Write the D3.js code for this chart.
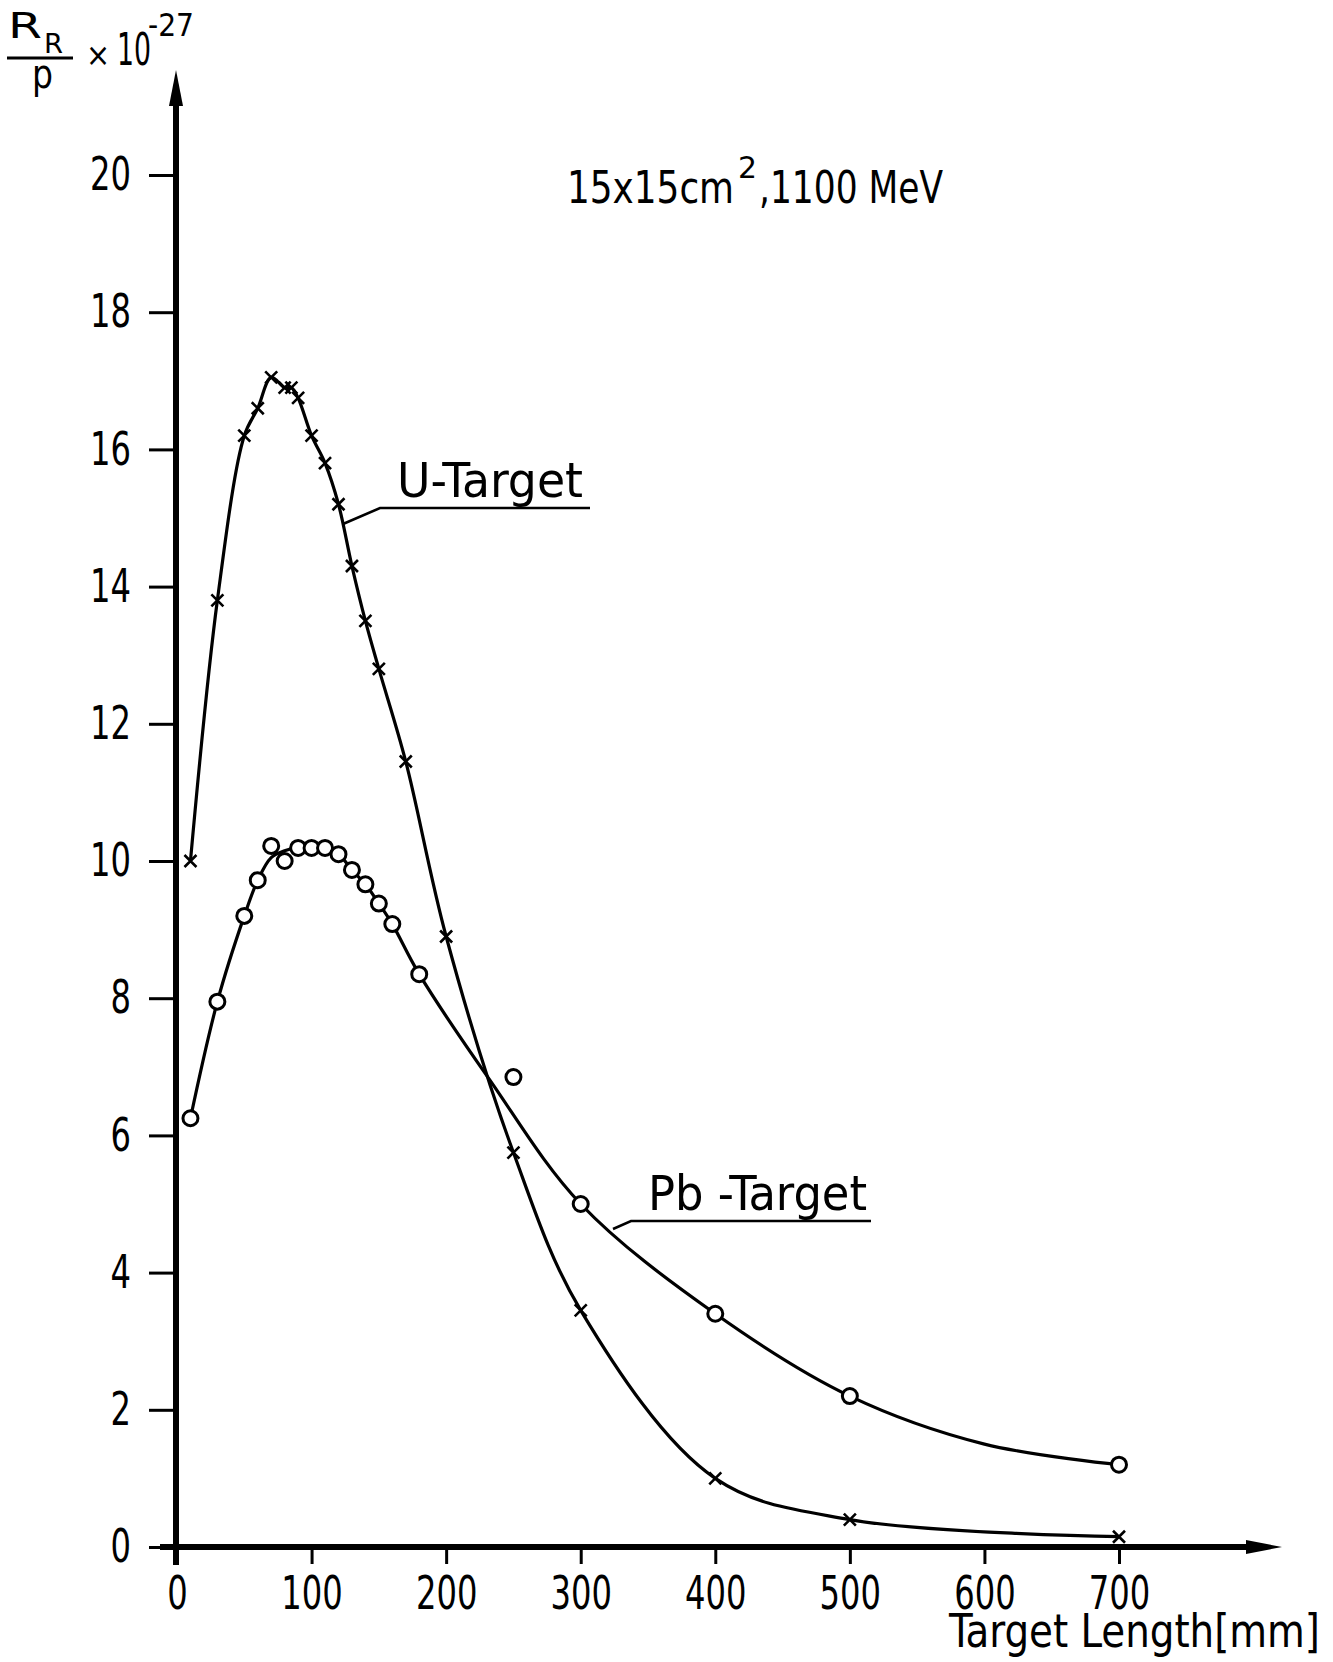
<!DOCTYPE html>
<html>
<head>
<meta charset="utf-8">
<script src="https://cdn.jsdelivr.net/npm/d3@7"></script>
<style>
  body { margin: 0; background: #fff; }
  svg { display: block; }
  text { font-family: "DejaVu Sans Condensed", "Liberation Sans Narrow", sans-serif; fill: #000; }
</style>
</head>
<body>
<div id="chart"></div>
<script>
// ********** DATA **********

// U-Target measurements (x markers)
const uLength = [10, 30, 50, 60, 70, 80, 85, 90, 100, 110, 120, 130, 140, 150, 170, 200, 250, 300, 400, 500, 700];
const uValue  = [10.0, 13.8, 16.2, 16.6, 17.05, 16.9, 16.9, 16.75, 16.2, 15.8, 15.2, 14.3, 13.5, 12.8, 11.45, 8.9, 5.75, 3.45, 1.0, 0.4, 0.15];

// Pb-Target measurements (open circles)
const pbLength = [10, 30, 50, 60, 70, 80, 90, 100, 110, 120, 130, 140, 150, 160, 180, 250, 300, 400, 500, 700];
const pbValue  = [6.25, 7.95, 9.2, 9.72, 10.22, 10.0, 10.19, 10.19, 10.19, 10.1, 9.87, 9.66, 9.38, 9.08, 8.35, 6.85, 5.0, 3.4, 2.2, 1.2];

// Pb fit curve as drawn in the figure (it does not pass through every circle)
const pbCurveLength = [10, 30, 50, 60, 70, 80, 90, 100, 110, 120, 130, 140, 150, 160, 180, 232, 300, 400, 500, 600, 700];
const pbCurveValue  = [6.25, 7.95, 9.2, 9.72, 10.05, 10.15, 10.2, 10.21, 10.19, 10.1, 9.87, 9.66, 9.38, 9.08, 8.35, 6.82, 5.0, 3.4, 2.2, 1.5, 1.2];

// Tick labels
const xTicks = [0, 100, 200, 300, 400, 500, 600, 700];
const yTicks = [0, 2, 4, 6, 8, 10, 12, 14, 16, 18, 20];

// ********** CHART **********

const width = 1333,
      height = 1662;

const x = d3.scaleLinear().domain([0, 700]).range([177, 1119]);
const y = d3.scaleLinear().domain([0, 20]).range([1547, 175]);

const zip = (a, b) => a.map((d, i) => ({ x: d, y: b[i] }));

// Stretch or squeeze a text to a given width (the original lettering is a narrow stencil face)
const fit = (sel, w) => sel.attr('textLength', w).attr('lengthAdjust', 'spacingAndGlyphs');

const svg = d3.select('#chart')
	.append('svg')
	.attr('width', width)
	.attr('height', height);

svg.append('rect')
	.attr('width', width)
	.attr('height', height)
	.attr('fill', '#fff');

// Axes: ticks and labels via d3, main lines drawn by hand with arrows
const yAxis = svg.append('g')
	.attr('transform', `translate(${x(0) - 1}, 0)`)
	.call(d3.axisLeft(y).tickValues(yTicks).tickSize(27).tickPadding(18).tickFormat(d3.format('d')));

const xAxis = svg.append('g')
	.attr('transform', `translate(0, ${y(0)})`)
	.call(d3.axisBottom(x).tickValues(xTicks).tickSize(17).tickPadding(12).tickFormat(d3.format('d')));

[yAxis, xAxis].forEach(g => {
	g.select('.domain').remove();
	g.selectAll('.tick line').attr('stroke', '#000').attr('stroke-width', 3);
	g.selectAll('.tick text')
		.attr('fill', '#000')
		.style('font-size', '46px')
		.each(function (d) {
			fit(d3.select(this), String(d).length * 20.5);
		});
});

const ax = x(0) - 1,
      ay = y(0);

// vertical axis + arrow
svg.append('line')
	.attr('x1', ax).attr('y1', ay + 18)
	.attr('x2', ax).attr('y2', 100)
	.attr('stroke', '#000')
	.attr('stroke-width', 6);
svg.append('path')
	.attr('d', `M${ax},70 L${ax - 7},106 L${ax + 7},106 Z`)
	.attr('fill', '#000');

// horizontal axis + arrow
svg.append('line')
	.attr('x1', ax - 16).attr('y1', ay)
	.attr('x2', 1250).attr('y2', ay)
	.attr('stroke', '#000')
	.attr('stroke-width', 6);
svg.append('path')
	.attr('d', `M1282,${ay} L1246,${ay - 7} L1246,${ay + 7} Z`)
	.attr('fill', '#000');

// Curves
const line = d3.line()
	.x(d => x(d.x))
	.y(d => y(d.y))
	.curve(d3.curveCatmullRom.alpha(0.5));

svg.append('path')
	.datum(zip(uLength, uValue))
	.attr('d', line)
	.attr('fill', 'none')
	.attr('stroke', '#000')
	.attr('stroke-width', 3.2);

svg.append('path')
	.datum(zip(pbCurveLength, pbCurveValue))
	.attr('d', line)
	.attr('fill', 'none')
	.attr('stroke', '#000')
	.attr('stroke-width', 3.2);

// Markers: crosses for U, circles for Pb
const cs = 6;
svg.append('g')
	.selectAll('path.cross')
	.data(zip(uLength, uValue))
	.enter()
	.append('path')
	.attr('class', 'cross')
	.attr('d', d => {
		const cx = x(d.x), cy = y(d.y);
		return `M${cx - cs},${cy - cs}L${cx + cs},${cy + cs}M${cx - cs},${cy + cs}L${cx + cs},${cy - cs}`;
	})
	.attr('stroke', '#000')
	.attr('stroke-width', 2.6);

svg.append('g')
	.selectAll('circle.pb')
	.data(zip(pbLength, pbValue))
	.enter()
	.append('circle')
	.attr('class', 'pb')
	.attr('cx', d => x(d.x))
	.attr('cy', d => y(d.y))
	.attr('r', 7.5)
	.attr('fill', '#fff')
	.attr('stroke', '#000')
	.attr('stroke-width', 3);

// Series labels with leader lines
fit(svg.append('text')
	.attr('x', 397).attr('y', 497)
	.style('font-size', '48px')
	.text('U-Target'), 186);
svg.append('path')
	.attr('d', 'M343,524 L380,508 L590,508')
	.attr('fill', 'none')
	.attr('stroke', '#000')
	.attr('stroke-width', 2.5);

fit(svg.append('text')
	.attr('x', 648).attr('y', 1210)
	.style('font-size', '48px')
	.text('Pb -Target'), 219);
svg.append('path')
	.attr('d', 'M613,1229 L631,1221 L871,1221')
	.attr('fill', 'none')
	.attr('stroke', '#000')
	.attr('stroke-width', 2.5);

// Title: 15x15cm², 1100 MeV
fit(svg.append('text').attr('x', 567).attr('y', 203).style('font-size', '44px').text('15x15cm'), 167);
fit(svg.append('text').attr('x', 738).attr('y', 178).style('font-size', '30px').text('2'), 19);
fit(svg.append('text').attr('x', 759).attr('y', 203).style('font-size', '44px').text(',1100 MeV'), 184);

// Y axis label: R_R / p x 10^-27
fit(svg.append('text').attr('x', 8).attr('y', 38).style('font-size', '35px').text('R'), 34);
fit(svg.append('text').attr('x', 44).attr('y', 53).style('font-size', '27px').text('R'), 19);
svg.append('line')
	.attr('x1', 7).attr('y1', 58).attr('x2', 73).attr('y2', 58)
	.attr('stroke', '#000').attr('stroke-width', 3);
fit(svg.append('text').attr('x', 32).attr('y', 88).style('font-size', '40px').text('p'), 21);
svg.append('text').attr('x', 86).attr('y', 66).style('font-size', '32px').text('×');
fit(svg.append('text').attr('x', 117).attr('y', 65).style('font-size', '45px').text('10'), 34);
fit(svg.append('text').attr('x', 148).attr('y', 36).style('font-size', '32px').text('-27'), 46);

// X axis title
fit(svg.append('text')
	.attr('x', 949).attr('y', 1647)
	.style('font-size', '46px')
	.text('Target Length[mm]'), 371);
</script>
</body>
</html>
